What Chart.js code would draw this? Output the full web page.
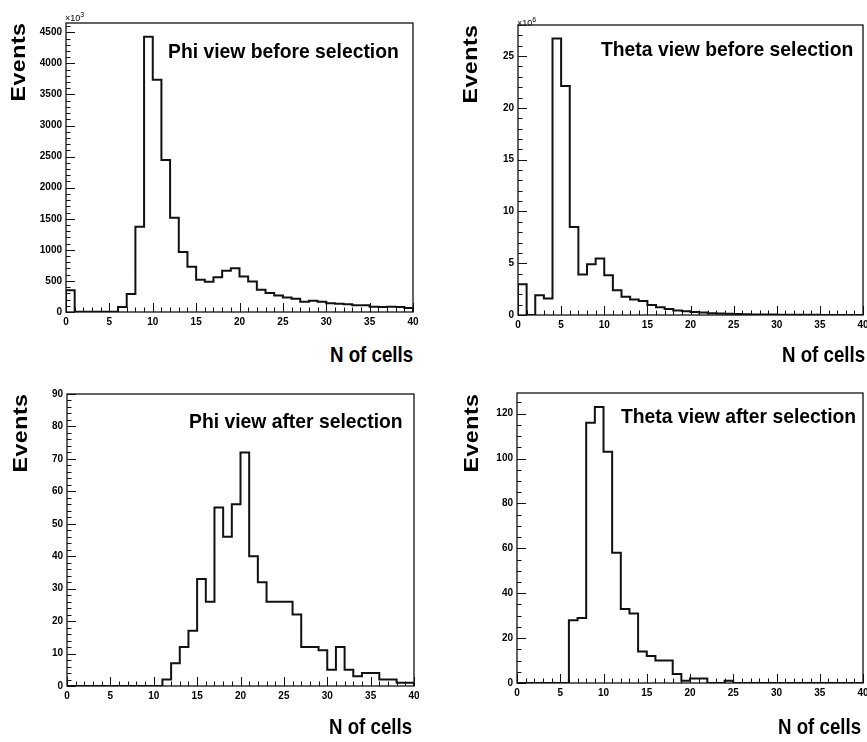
<!DOCTYPE html>
<html>
<head>
<meta charset="utf-8">
<script src="https://cdn.jsdelivr.net/npm/chart.js@4.4.1/dist/chart.umd.min.js"></script>
<style>
    html, body {
        margin: 0;
        padding: 0;
        background: #fff;
    }
    body {
        position: relative;
        width: 867px;
        height: 742px;
        overflow: hidden;
        font-family: "Liberation Sans", Arial, Helvetica, sans-serif;
        font-weight: bold;
        color: #000;
    }
    .panel {
        position: absolute;
    }
    .txt {
        position: absolute;
        white-space: nowrap;
        transform-origin: left center;
    }
    .events {
        position: absolute;
        white-space: nowrap;
        font-size: 21px;
        line-height: 21px;
        letter-spacing: 0.5px;
        transform: translate(-50%, -50%) rotate(-90deg) scaleX(1.1);
    }
    .mult {
        position: absolute;
        font-size: 9px;
        font-weight: normal;
        line-height: 9px;
        white-space: nowrap;
    }
    .mult sup {
        font-size: 7px;
        vertical-align: 4px;
    }
</style>
</head>
<body>

<script>
// bin lower edges, N of cells
const binLow = [0, 1, 2, 3, 4, 5, 6, 7, 8, 9, 10, 11, 12, 13, 14, 15, 16, 17, 18, 19,
    20, 21, 22, 23, 24, 25, 26, 27, 28, 29, 30, 31, 32, 33, 34, 35, 36, 37, 38, 39];
const xTicks = [0, 5, 10, 15, 20, 25, 30, 35, 40];

// Events, units of 10^3
const phiBefore = [350, 5, 5, 5, 5, 5, 80, 290, 1373, 4430, 3735, 2447, 1518, 967, 727, 518, 486, 561, 663, 705,
    572, 492, 358, 305, 267, 235, 214, 166, 182, 166, 139, 134, 123, 107, 107, 85, 80, 85, 80, 64];
// Events, units of 10^6
const thetaBefore = [2.96, 0, 1.9, 1.6, 26.7, 22.1, 8.5, 3.9, 4.9, 5.45, 3.85, 2.4, 1.77, 1.5, 1.35, 0.97, 0.74, 0.57, 0.44, 0.36,
    0.3, 0.24, 0.18, 0.14, 0.11, 0.09, 0.07, 0.06, 0.05, 0.04, 0.03, 0.03, 0.02, 0.02, 0.02, 0.01, 0.01, 0.01, 0.01, 0.01];
const phiAfter = [0, 0, 0, 0, 0, 0, 0, 0, 0, 0, 0, 2, 7, 12, 17, 33, 26, 55, 46, 56,
    72, 40, 32, 26, 26, 26, 22, 12, 12, 11, 5, 12, 5, 3, 4, 4, 2, 2, 1, 1];
const thetaAfter = [0, 0, 0, 0, 0, 0, 28, 29, 116, 123, 103, 58, 33, 31, 14, 12, 10, 10, 4, 1,
    2, 2, 0, 0, 1, 0, 0, 0, 0, 0, 0, 0, 0, 0, 0, 0, 0, 0, 0, 0];

// y tick labels per panel
const yTicksPhiBefore = [0, 500, 1000, 1500, 2000, 2500, 3000, 3500, 4000, 4500];
const yTicksThetaBefore = [0, 5, 10, 15, 20, 25];
const yTicksPhiAfter = [0, 10, 20, 30, 40, 50, 60, 70, 80, 90];
const yTicksThetaAfter = [0, 20, 40, 60, 80, 100, 120];

const titles = ['Phi view before selection', 'Theta view before selection', 'Phi view after selection', 'Theta view after selection'];
const yLabel = 'Events';
const xLabel = 'N of cells';

const FONT = '"Liberation Sans", Arial, Helvetica, sans-serif';
const INK = '#111';

// ROOT style frame with inward ticks
const rootFrame = {
    id: 'rootFrame',
    afterDraw(chart, args, opts) {
        const { ctx, chartArea: a, scales } = chart;
        const x = scales.x, y = scales.y;
        ctx.save();
        ctx.strokeStyle = INK;
        ctx.lineWidth = 1;
        ctx.beginPath();
        let n = Math.round((y.max - y.min) / opts.yMinor + 1e-6);
        if (n * opts.yMinor > y.max + 1e-9) n--;
        const per = Math.round(opts.yMajor / opts.yMinor);
        for (let i = 0; i <= n; i++) {
            const py = Math.round(y.getPixelForValue(i * opts.yMinor)) + 0.5;
            const len = i % per === 0 ? 9 : 4.5;
            ctx.moveTo(a.left, py);
            ctx.lineTo(a.left + len, py);
        }
        for (let i = 0; i <= 40; i++) {
            const px = Math.round(x.getPixelForValue(i)) + 0.5;
            const len = i % 5 === 0 ? 9 : 4.5;
            ctx.moveTo(px, a.bottom);
            ctx.lineTo(px, a.bottom - len);
        }
        ctx.stroke();
        ctx.lineWidth = 1.3;
        ctx.strokeRect(a.left, a.top, a.right - a.left, a.bottom - a.top);
        ctx.restore();
    }
};

function addText(text, x, baseline, fs, sx) {
    const d = document.createElement('div');
    d.className = 'txt';
    d.textContent = text;
    d.style.fontSize = fs + 'px';
    d.style.lineHeight = fs + 'px';
    d.style.left = x + 'px';
    d.style.top = (baseline - 0.8465 * fs) + 'px';
    d.style.transform = 'scaleX(' + sx + ')';
    document.body.appendChild(d);
}

function addEvents(cx, cy) {
    const d = document.createElement('div');
    d.className = 'events';
    d.textContent = yLabel;
    d.style.left = cx + 'px';
    d.style.top = cy + 'px';
    document.body.appendChild(d);
}

function addMult(exp, x, baseline) {
    const d = document.createElement('div');
    d.className = 'mult';
    d.innerHTML = '\u00d710<sup>' + exp + '</sup>';
    d.style.left = x + 'px';
    d.style.top = (baseline - 7.6) + 'px';
    document.body.appendChild(d);
}

function makeHist(box, values, yMax, yTicks, yMajor, yMinor) {
    const padL = 60, padT = 20, padR = 20, padB = 30;
    const wrap = document.createElement('div');
    wrap.className = 'panel';
    wrap.style.left = (box.L - padL) + 'px';
    wrap.style.top = (box.T - padT) + 'px';
    wrap.style.width = (box.R - box.L + padL + padR) + 'px';
    wrap.style.height = (box.B - box.T + padT + padB) + 'px';
    const canvas = document.createElement('canvas');
    wrap.appendChild(canvas);
    document.body.appendChild(wrap);

    // outline of the histogram: value of bin i spans [binLow[i], binLow[i] + 1]
    const last = values[values.length - 1];
    const points = [{ x: binLow[0], y: 0 }]
        .concat(binLow.map((b, i) => ({ x: b, y: values[i] })))
        .concat([{ x: 40, y: last }, { x: 40, y: 0 }]);

    return new Chart(canvas, {
        type: 'line',
        data: {
            datasets: [{
                data: points,
                stepped: 'before',
                borderColor: INK,
                borderWidth: 2,
                pointRadius: 0,
                fill: false
            }]
        },
        options: {
            responsive: true,
            maintainAspectRatio: false,
            animation: false,
            events: [],
            layout: { padding: { top: padT, right: padR, left: 0, bottom: 0 } },
            plugins: {
                legend: { display: false },
                tooltip: { enabled: false },
                rootFrame: { yMajor: yMajor, yMinor: yMinor }
            },
            scales: {
                x: {
                    type: 'linear',
                    min: 0,
                    max: 40,
                    grid: { display: false, drawTicks: false },
                    border: { display: false },
                    afterBuildTicks: s => { s.ticks = xTicks.map(v => ({ value: v })); },
                    afterFit: s => { s.height = padB; },
                    ticks: {
                        autoSkip: false,
                        maxRotation: 0,
                        padding: 4,
                        color: '#000',
                        callback: v => String(v),
                        font: { family: FONT, size: 10, weight: 'bold' }
                    }
                },
                y: {
                    type: 'linear',
                    min: 0,
                    max: yMax,
                    grid: { display: false, drawTicks: false },
                    border: { display: false },
                    afterBuildTicks: s => { s.ticks = yTicks.map(v => ({ value: v })); },
                    afterFit: s => { s.width = padL; },
                    ticks: {
                        autoSkip: false,
                        padding: 4,
                        color: '#000',
                        callback: v => String(v),
                        font: { family: FONT, size: 10, weight: 'bold' }
                    }
                }
            }
        },
        plugins: [rootFrame]
    });
}

makeHist({ L: 66, T: 23, R: 413, B: 312 }, phiBefore, 4650, yTicksPhiBefore, 500, 100);
makeHist({ L: 518, T: 25, R: 863, B: 315 }, thetaBefore, 28.0, yTicksThetaBefore, 5, 1);
makeHist({ L: 67, T: 394, R: 414, B: 686 }, phiAfter, 90, yTicksPhiAfter, 10, 2);
makeHist({ L: 517, T: 393, R: 863, B: 683 }, thetaAfter, 129.2, yTicksThetaAfter, 20, 5);

addText(titles[0], 168, 58, 21, 0.92);
addText(titles[1], 601, 56, 21, 0.92);
addText(titles[2], 189, 428, 21, 0.92);
addText(titles[3], 621, 423, 21, 0.92);

addText(xLabel, 330, 363, 22, 0.85);
addText(xLabel, 782, 363, 22, 0.85);
addText(xLabel, 329, 735, 22, 0.85);
addText(xLabel, 778, 735, 22, 0.85);

addEvents(17, 61.5);
addEvents(469, 63.5);
addEvents(19, 432.5);
addEvents(469.5, 432.5);

addMult(3, 65, 18);
addMult(6, 517, 23);
</script>
</body>
</html>
